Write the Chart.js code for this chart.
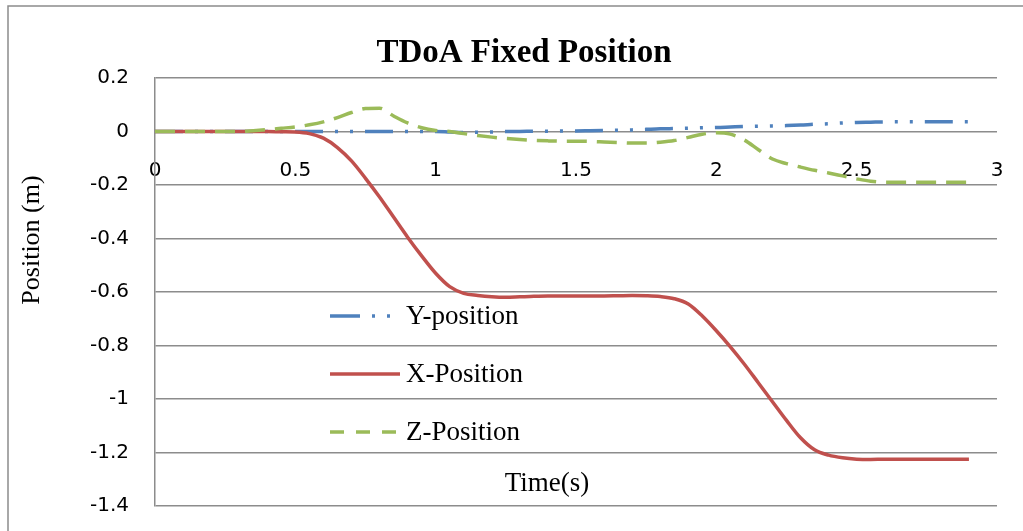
<!DOCTYPE html>
<html><head><meta charset="utf-8">
<script src="https://cdn.jsdelivr.net/npm/chart.js@4.4.1/dist/chart.umd.min.js"></script>
<style>html,body{margin:0;padding:0;background:#fff;overflow:hidden}</style>
</head><body>
<canvas id="c" width="1023" height="531"></canvas>
<script>
const chartTitle = 'TDoA Fixed Position';
const xAxisTitle = 'Time(s)';
const yAxisTitle = 'Position (m)';
const seriesNames = ['Y-position', 'X-Position', 'Z-Position'];

const time = [0,0.05,0.1,0.15,0.2,0.25,0.3,0.35,0.4,0.45,
  0.5,0.55,0.6,0.65,0.7,0.75,0.8,0.85,0.9,0.95,
  1.0,1.05,1.1,1.15,1.2,1.25,1.3,1.35,1.4,1.45,
  1.5,1.55,1.6,1.65,1.7,1.75,1.8,1.85,1.9,1.95,
  2.0,2.05,2.1,2.15,2.2,2.25,2.3,2.35,2.4,2.45,
  2.5,2.55,2.6,2.65,2.7,2.75,2.8,2.85,2.9];

const yPosition = [0,0,0,0,0,0,0,0,0,0,
  0,0,0,0,0,0,0,0,0,0,
  0,-0.002,-0.004,-0.003,-0.002,0,0,0.001,0.001,0.002,
  0.002,0.003,0.004,0.005,0.006,0.008,0.010,0.011,0.012,0.014,
  0.015,0.017,0.019,0.020,0.021,0.022,0.024,0.027,0.029,0.032,
  0.034,0.035,0.036,0.036,0.036,0.036,0.036,0.036,0.036];

const xPosition = [0,0,0,0,0,0,0,0,0,-0.001,
  -0.002,-0.008,-0.025,-0.06,-0.11,-0.175,-0.245,-0.32,-0.395,-0.465,
  -0.53,-0.58,-0.605,-0.613,-0.618,-0.620,-0.618,-0.616,-0.615,-0.615,
  -0.615,-0.615,-0.615,-0.614,-0.613,-0.614,-0.617,-0.625,-0.645,-0.69,
  -0.745,-0.805,-0.87,-0.94,-1.01,-1.08,-1.145,-1.19,-1.21,-1.22,
  -1.225,-1.226,-1.225,-1.225,-1.225,-1.225,-1.225,-1.225,-1.225];

const zPosition = [0,0,0,0,0,0,0,0.003,0.007,0.012,
  0.017,0.025,0.036,0.052,0.071,0.086,0.087,0.058,0.032,0.014,
  0.004,0.0,-0.008,-0.015,-0.021,-0.026,-0.030,-0.033,-0.035,-0.036,
  -0.036,-0.037,-0.039,-0.041,-0.043,-0.043,-0.040,-0.034,-0.022,-0.010,
  -0.005,-0.010,-0.032,-0.068,-0.103,-0.120,-0.133,-0.145,-0.155,-0.166,
  -0.177,-0.186,-0.190,-0.190,-0.190,-0.190,-0.190,-0.190,-0.190];

const xTicks = [0, 0.5, 1, 1.5, 2, 2.5, 3];
const yTicks = [-1.4, -1.2, -1, -0.8, -0.6, -0.4, -0.2, 0, 0.2];

const COLORS = ['#4F81BD', '#C0504D', '#9BBB59'];
const DASHES = [[28,12,3,12,3,12], [], [20,10]];
const LEGEND_DASHES = [[30,12,3,12,3,12], [], [14,12]];
const GRID = '#8c8c8c';
const CLEAR = 'rgba(0,0,0,0)';

const toXY = arr => time.map((t, i) => ({x: t, y: arr[i]}));
const seriesData = [yPosition, xPosition, zPosition];
const drawOrder = [2, 1, 0];

const datasets = seriesNames.map((name, i) => ({
  label: name,
  data: toXY(seriesData[i]),
  borderColor: COLORS[i],
  backgroundColor: COLORS[i],
  borderWidth: 3.5,
  borderDash: DASHES[i],
  borderCapStyle: 'butt',
  pointRadius: 0,
  fill: false,
  tension: 0.4,
  cubicInterpolationMode: 'monotone',
  order: drawOrder[i]
}));

const decor = {
  id: 'decor',
  beforeDraw(chart) {
    const c = chart.ctx;
    c.save();
    c.fillStyle = '#fff';
    c.fillRect(0, 0, chart.width, chart.height);
    c.strokeStyle = GRID;
    c.lineWidth = 1.5;
    c.beginPath();
    c.moveTo(8, chart.height + 5);
    c.lineTo(8, 6);
    c.lineTo(chart.width + 5, 6);
    c.stroke();
    c.restore();
  },
  afterDraw(chart) {
    const c = chart.ctx;
    c.save();
    c.fillStyle = '#000';
    c.font = 'bold 33px "Liberation Serif"';
    c.textAlign = 'center';
    c.textBaseline = 'alphabetic';
    c.fillText(chartTitle, 524, 62);
    c.save();
    c.translate(32, 240);
    c.rotate(-Math.PI / 2);
    c.font = '26px "Liberation Serif"';
    c.textAlign = 'center';
    c.textBaseline = 'middle';
    c.fillText(yAxisTitle, 0, 0);
    c.restore();
    c.font = '27px "Liberation Serif"';
    c.textAlign = 'center';
    c.textBaseline = 'middle';
    c.fillText(xAxisTitle, 547, 484);
    const ys = [316, 374, 432];
    seriesNames.forEach((name, i) => {
      c.save();
      c.strokeStyle = COLORS[i];
      c.lineWidth = 3.5;
      c.setLineDash(LEGEND_DASHES[i]);
      c.beginPath();
      c.moveTo(330, ys[i]);
      c.lineTo(400, ys[i]);
      c.stroke();
      c.restore();
      c.font = '27px "Liberation Serif"';
      c.textAlign = 'left';
      c.textBaseline = 'middle';
      c.fillStyle = '#000';
      c.fillText(name, 406, ys[i] + 1);
    });
    c.restore();
  }
};

new Chart(document.getElementById('c'), {
  type: 'line',
  data: { datasets },
  plugins: [decor],
  options: {
    responsive: false,
    animation: false,
    events: [],
    layout: { padding: { left: 0, right: 26, top: 78, bottom: 25 } },
    plugins: { legend: { display: false }, tooltip: { enabled: false }, title: { display: false } },
    scales: {
      x: {
        type: 'linear', min: 0, max: 3,
        position: { y: 0 },
        grid: { display: true, drawOnChartArea: false, drawTicks: true, tickLength: 27, tickColor: CLEAR, color: CLEAR },
        border: { display: false },
        afterBuildTicks: s => { s.ticks = xTicks.map(v => ({ value: v })); },
        ticks: {
          color: '#000', padding: 0, maxRotation: 0, autoSkip: false,
          font: { family: '"DejaVu Sans"', size: 20 },
          callback: v => String(v)
        }
      },
      y: {
        type: 'linear', min: -1.4, max: 0.2,
        grid: { color: GRID, lineWidth: 1.5, drawTicks: true, tickLength: 26, tickColor: CLEAR },
        border: { display: true, color: GRID, width: 1.5 },
        afterBuildTicks: s => { s.ticks = yTicks.map(v => ({ value: v })); },
        afterFit: s => { s.width = 155; },
        ticks: {
          color: '#000', padding: 0, autoSkip: false,
          font: { family: '"DejaVu Sans"', size: 20 },
          callback: v => String(Math.round(v * 10) / 10)
        }
      }
    }
  }
});
</script>
</body></html>
